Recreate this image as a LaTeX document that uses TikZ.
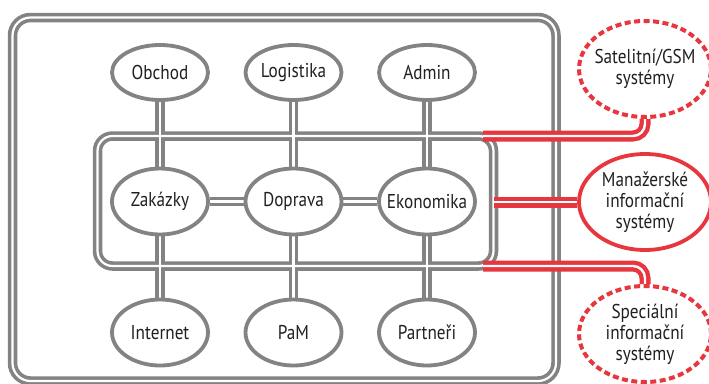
\documentclass[tikz,border=0pt]{standalone}
\usepackage{fontspec}
\setmainfont{PT Sans}[FakeStretch=0.86]
\usepackage{tikz}
\usetikzlibrary{shapes.geometric}
\usetikzlibrary{backgrounds}
\definecolor{pipegray}{HTML}{838383}
\definecolor{sysred}{HTML}{E8363F}
\definecolor{inkdark}{HTML}{231F20}
\tikzset{
  module/.style={
    ellipse,draw=pipegray,line width=3.8pt,fill=white,text=inkdark,
    minimum width=96pt,minimum height=66pt,inner xsep=-15pt,inner ysep=0pt,
    font=\fontsize{20}{21}\selectfont,
  },
  topmodule/.style={module,minimum height=55pt},
  extsys/.style={module,draw=sysred,minimum width=132pt,minimum height=96pt,align=center},
  extdashed/.style={extsys,line width=4pt,dash pattern=on 6pt off 3.5pt},
  pipe/.style={draw=pipegray,line width=9.5pt},
  pipegap/.style={draw=white,line width=2.2pt},
  redpipe/.style={draw=sysred,line width=11pt},
  redgap/.style={draw=white,line width=2.4pt},
}
% gray bus, drawn twice: pipe then gap
\newcommand\busnet[1]{%
  \draw[#1,rounded corners=18pt] (12.5,17.5) rectangle (556,381);
  \draw[#1,rounded corners=15pt] (97.5,136) rectangle (493.5,266);
  \draw[#1] (obchod) -- (zakazky) -- (internet);
  \draw[#1] (logistika) -- (doprava) -- (pam);
  \draw[#1] (admin) -- (ekonomika) -- (partneri);
  \draw[#1] (zakazky) -- (doprava) -- (ekonomika);
}
% red links to the outer systems
\newcommand\extlinks[1]{%
  \draw[#1,rounded corners=12pt] (tapsat) -| (sat);
  \draw[#1] (tapmis) -- (mis);
  \draw[#1,rounded corners=12pt] (tapspec) -| (spec);
}

\begin{document}
\begin{tikzpicture}[x=1pt,y=-1pt]
    \useasboundingbox (0,0) rectangle (709,383);
    % modules
    \node[topmodule] (obchod) at (160,72.5) {Obchod};
    \node[topmodule] (logistika) at (293.5,72.5) {Logistika};
    \node[topmodule] (admin) at (427,72.5) {Admin};
    \node[module] (zakazky) at (160,201.5) {Zakázky};
    \node[module] (doprava) at (293.5,201.5) {Doprava};
    \node[module] (ekonomika) at (427,201.5) {Ekonomika};
    \node[module] (internet) at (160,332.5) {Internet};
    \node[module] (pam) at (293.5,332.5) {PaM};
    \node[module] (partneri) at (427,332.5) {Partneři};
    % outer systems
    \node[extdashed] (sat) at (645,69) {Satelitní/GSM\\systémy};
    \node[extsys] (mis) at (645,202) {Manažerské\\informační\\systémy};
    \node[extdashed] (spec) at (645,334) {Speciální\\informační\\systémy};
    % taps on the inner frame
    \coordinate (tapsat) at (483,136);
    \coordinate (tapmis) at (493.5,202);
    \coordinate (tapspec) at (483,266);
    % pipes
    \begin{pgfonlayer}{background}
        \busnet{pipe}
        \busnet{pipegap}
        \extlinks{redpipe}
        \extlinks{redgap}
    \end{pgfonlayer}
\end{tikzpicture}
\end{document}
